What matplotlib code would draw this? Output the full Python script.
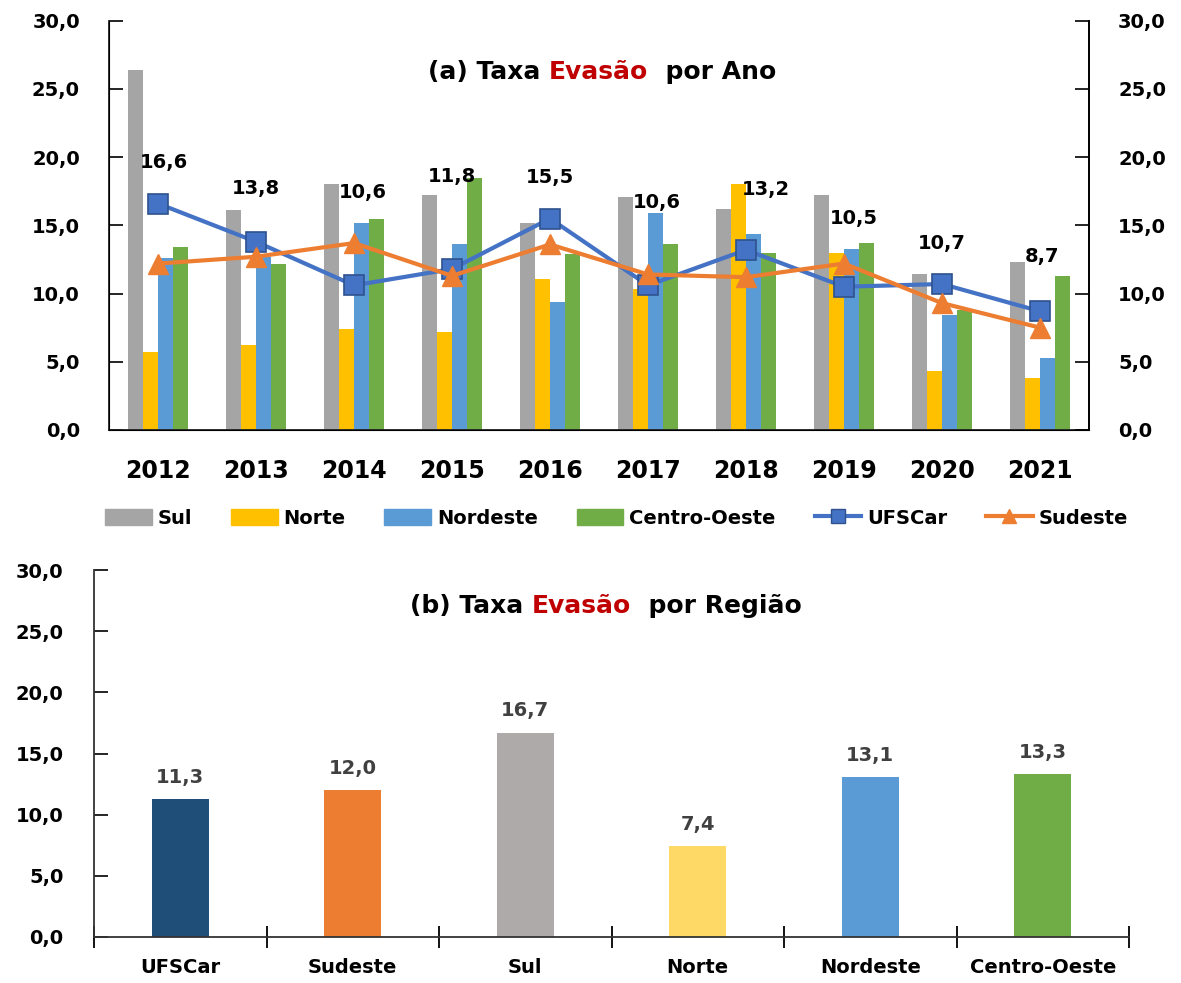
import matplotlib.pyplot as plt
import numpy as np
from matplotlib.ticker import FuncFormatter, MultipleLocator
from matplotlib.patches import Patch
from matplotlib.lines import Line2D

# dados (a) taxa de evasao por ano
anos = ['2012', '2013', '2014', '2015', '2016', '2017', '2018', '2019', '2020', '2021']
sul = [26.4, 16.1, 18.0, 17.2, 15.2, 17.1, 16.2, 17.2, 11.4, 12.3]
norte = [5.7, 6.2, 7.4, 7.2, 11.1, 10.3, 18.0, 13.0, 4.3, 3.8]
nordeste = [12.6, 12.7, 15.2, 13.6, 9.4, 15.9, 14.4, 13.3, 8.4, 5.3]
centro_oeste = [13.4, 12.2, 15.5, 18.5, 12.9, 13.6, 13.0, 13.7, 8.8, 11.3]
ufscar = [16.6, 13.8, 10.6, 11.8, 15.5, 10.6, 13.2, 10.5, 10.7, 8.7]
sudeste = [12.2, 12.7, 13.7, 11.3, 13.6, 11.4, 11.2, 12.2, 9.3, 7.5]

# dados (b) taxa de evasao por regiao
regioes = ['UFSCar', 'Sudeste', 'Sul', 'Norte', 'Nordeste', 'Centro-Oeste']
media_regiao = [11.3, 12.0, 16.7, 7.4, 13.1, 13.3]

# deslocamento dos rotulos da UFSCar (posicao, nao dado)
lbl_dy = [3.0, 3.9, 6.8, 6.8, 3.0, 6.1, 4.4, 5.0, 3.0, 4.0]
lbl_dx = [0.06, 0.0, 0.09, 0.0, 0.0, 0.09, 0.2, 0.1, 0.0, 0.02]

cores_barra = ['#A5A5A5', '#FFC000', '#5B9BD5', '#70AD47']
cores_regiao = ['#1F4E79', '#ED7D31', '#AEAAAA', '#FFD966', '#5B9BD5', '#70AD47']
vermelho = '#C00000'
fmt = FuncFormatter(lambda v, p: ('%.1f' % v).replace('.', ','))

plt.rcParams['font.family'] = 'DejaVu Sans'
fig = plt.figure(figsize=(11.81, 9.83), dpi=100)

# ---------------- (a) ----------------
ax1 = fig.add_axes([0.0923, 0.5626, 0.8298, 0.4163])
x = np.arange(len(anos))
w = 0.155
series = [sul, norte, nordeste, centro_oeste]
for i in range(4):
    ax1.bar(x + (i - 1.5) * w, series[i], width=w, color=cores_barra[i], zorder=2)
ax1.plot(x, ufscar, color='#4472C4', lw=3, marker='s', ms=14, mfc='#4472C4',
         mec='#2F528F', mew=1.2, zorder=4)
ax1.plot(x, sudeste, color='#ED7D31', lw=3, marker='^', ms=14, mfc='#ED7D31',
         mec='#ED7D31', zorder=5)
for i in range(len(anos)):
    ax1.text(x[i] + lbl_dx[i], ufscar[i] + lbl_dy[i], ('%.1f' % ufscar[i]).replace('.', ','),
             ha='center', va='center', fontsize=14, fontweight='bold', zorder=6)

ax1.set_xlim(-0.5, 9.5)
ax1.set_ylim(0, 30)
ax1.yaxis.set_major_locator(MultipleLocator(5))
ax1.yaxis.set_major_formatter(fmt)
ax1.set_xticks(x)
ax1.set_xticklabels(anos, fontsize=17, fontweight='bold')
ax1.tick_params(axis='x', length=0, pad=21)
ax1.tick_params(axis='y', direction='in', length=10, width=1.2, labelsize=14, pad=21)
for lb in ax1.get_yticklabels():
    lb.set_fontweight('bold')
ax1.spines['top'].set_visible(False)
for s in ['left', 'right', 'bottom']:
    ax1.spines[s].set_linewidth(1.3)
    ax1.spines[s].set_color('#222222')

ax1r = ax1.twinx()
ax1r.set_ylim(0, 30)
ax1r.yaxis.set_major_locator(MultipleLocator(5))
ax1r.yaxis.set_major_formatter(fmt)
ax1r.tick_params(axis='y', direction='in', length=10, width=1.2, labelsize=14, pad=21)
for lb in ax1r.get_yticklabels():
    lb.set_fontweight('bold')
ax1r.spines['top'].set_visible(False)
ax1r.spines['right'].set_linewidth(1.3)

t1 = ax1.text(0.3255, 0.875, '(a) Taxa ', transform=ax1.transAxes, fontsize=18,
              fontweight='bold', va='center', ha='left')
t2 = ax1.annotate('Evasão', xy=(1, 0), xycoords=t1, va='bottom', ha='left',
                  fontsize=18, fontweight='bold', color=vermelho)
ax1.annotate('  por Ano', xy=(1, 0), xycoords=t2, va='bottom', ha='left',
             fontsize=18, fontweight='bold')

# legenda
handles = [Patch(color=c) for c in cores_barra]
handles += [Line2D([], [], color='#4472C4', lw=3, marker='s', ms=10, mec='#2F528F'),
            Line2D([], [], color='#ED7D31', lw=3, marker='^', ms=10)]
labels = ['Sul', 'Norte', 'Nordeste', 'Centro-Oeste', 'UFSCar', 'Sudeste']
fig.legend(handles, labels, loc='center', bbox_to_anchor=(0.522, 0.473), ncol=6,
           frameon=False, prop={'weight': 'bold', 'size': 14}, handlelength=2.4,
           handleheight=0.9, columnspacing=2.0, handletextpad=0.3)

# ---------------- (b) ----------------
ax2 = fig.add_axes([0.0796, 0.0468, 0.8764, 0.3733])
xr = np.arange(len(regioes))
ax2.bar(xr, media_regiao, width=0.33, color=cores_regiao, zorder=2)
for i in range(len(regioes)):
    ax2.text(xr[i], media_regiao[i] + 1.0, ('%.1f' % media_regiao[i]).replace('.', ','),
             ha='center', va='bottom', fontsize=14, fontweight='bold', color='#404040')
ax2.set_xlim(-0.5, 5.5)
ax2.set_ylim(0, 30)
ax2.yaxis.set_major_locator(MultipleLocator(5))
ax2.yaxis.set_major_formatter(fmt)
ax2.set_xticks(xr)
ax2.set_xticklabels(regioes, fontsize=14, fontweight='bold')
ax2.set_xticks(np.arange(-0.5, 6.0, 1.0), minor=True)
ax2.tick_params(axis='x', which='major', length=0, pad=15)
ax2.tick_params(axis='x', which='minor', direction='inout', length=16, width=1.3)
ax2.tick_params(axis='y', direction='in', length=10, width=1.2, labelsize=14, pad=22)
for lb in ax2.get_yticklabels():
    lb.set_fontweight('bold')
for s in ['top', 'right']:
    ax2.spines[s].set_visible(False)
for s in ['left', 'bottom']:
    ax2.spines[s].set_linewidth(1.3)
    ax2.spines[s].set_color('#333333')

u1 = ax2.text(0.305, 0.902, '(b) Taxa ', transform=ax2.transAxes, fontsize=18,
              fontweight='bold', va='center', ha='left')
u2 = ax2.annotate('Evasão', xy=(1, 0), xycoords=u1, va='bottom', ha='left',
                  fontsize=18, fontweight='bold', color=vermelho)
ax2.annotate('  por Região', xy=(1, 0), xycoords=u2, va='bottom', ha='left',
             fontsize=18, fontweight='bold')

plt.savefig('out.png', dpi=100)
